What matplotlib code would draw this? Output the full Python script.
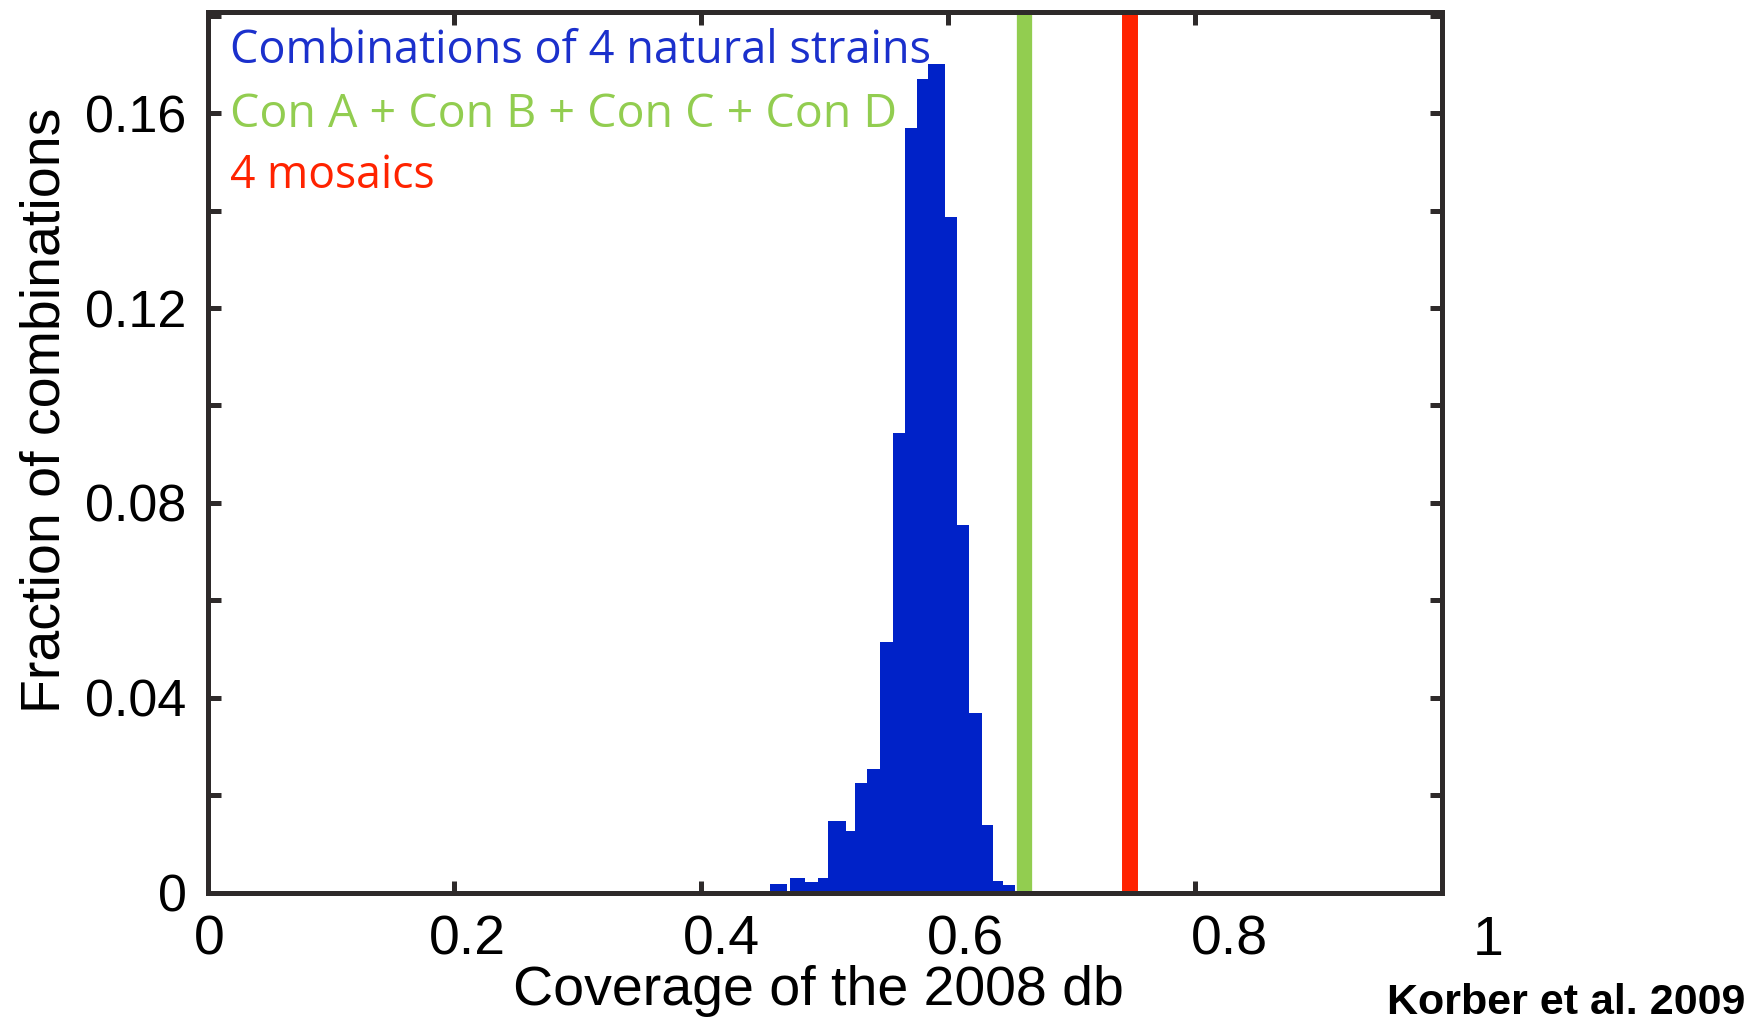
import matplotlib
matplotlib.use("Agg")
import matplotlib.pyplot as plt
from matplotlib.transforms import ScaledTranslation

# ---------------- data ----------------
bin_edges = [0.4558, 0.4694, 0.4720, 0.4842, 0.4950, 0.5031, 0.5174, 0.5247,
             0.5347, 0.5450, 0.5553, 0.5653, 0.5747, 0.5841, 0.5976, 0.6076,
             0.6171, 0.6274, 0.6368, 0.6449, 0.6544]
fractions = [0.0018, 0.0, 0.0029, 0.0022, 0.0029, 0.0147, 0.0127, 0.0225,
             0.0254, 0.0514, 0.0944, 0.1569, 0.1670, 0.1701, 0.1388, 0.0755,
             0.0369, 0.0139, 0.0024, 0.0015]
consensus_coverage = 0.6613
mosaic_coverage = 0.7472

x_ticks = [0, 0.2, 0.4, 0.6, 0.8, 1.0]
x_tick_labels = ["0", "0.2", "0.4", "0.6", "0.8", "1"]
y_ticks = [0, 0.02, 0.04, 0.06, 0.08, 0.10, 0.12, 0.14, 0.16, 0.18]
y_tick_labels = ["0", "", "0.04", "", "0.08", "", "0.12", "", "0.16", ""]
legend_labels = ["Combinations of 4 natural strains",
                 "Con A + Con B + Con C + Con D",
                 "4 mosaics"]

# ---------------- style ----------------
BLUE = "#0022c8"
BLUE_TXT = "#1b30cc"
GREEN = "#92cd50"
RED = "#ff2300"
SPINE = "#2e2a2a"
FONT = "Liberation Sans"
LEG_FONT = "Open Sans"

fig = plt.figure(figsize=(17.6, 10.24), dpi=100)
ax = fig.add_axes([207.5 / 1760, 131.5 / 1024, 1234 / 1760, 880.5 / 1024])

ax.stairs(fractions, bin_edges, fill=True, color=BLUE, baseline=0, zorder=2,
          linewidth=0)
ax.axvline(consensus_coverage, color=GREEN, lw=11, zorder=3)
ax.axvline(mosaic_coverage, color=RED, lw=11.5, zorder=3)

ax.set_xlim(0, 1)
ax.set_ylim(0, 0.1808)

ax.set_xticks(x_ticks)
ax.set_xticklabels(x_tick_labels, fontsize=40, family=FONT)
ax.set_yticks(y_ticks)
ax.set_yticklabels(y_tick_labels, fontsize=37.5, family=FONT)

ax.tick_params(axis="both", direction="in", length=9, width=3.6,
               color=SPINE, top=True, right=True, labelcolor="black")
ax.tick_params(axis="x", pad=16)
ax.tick_params(axis="y", pad=15)
for s in ax.spines.values():
    s.set_linewidth(3.6)
    s.set_color(SPINE)
    s.set_zorder(5)

# the x tick labels in the picture drift slightly to the right
shifts_px = [2, 13, 20, 18, 35, 47]
for lab, dx in zip(ax.get_xticklabels(), shifts_px):
    lab.set_transform(lab.get_transform() +
                      ScaledTranslation(dx / 100, 0, fig.dpi_scale_trans))

ax.set_xlabel("Coverage of the 2008 db", fontsize=40, family=FONT)
ax.xaxis.label.set_va("baseline")
ax.xaxis.set_label_coords(0.4947, -0.1278)
ax.set_ylabel("Fraction of combinations", fontsize=40, family=FONT)
ax.yaxis.label.set_va("center")
ax.yaxis.set_label_coords(-0.131, 0.548)

# legend-like coloured texts
colors = [BLUE_TXT, GREEN, RED]
ys = [0.942, 0.8694, 0.8001]
target_w = [701, 665, 205]
renderer = fig.canvas.get_renderer()
for lab, c, y, tw in zip(legend_labels, colors, ys, target_w):
    t = ax.text(0.0182, y, lab, transform=ax.transAxes, color=c, fontsize=36,
                family=LEG_FONT, va="baseline", ha="left", zorder=6)
    w = t.get_window_extent(renderer).width
    t.set_fontsize(36 * tw / w)

fig.text(1745 / 1760, 1.5 / 1024, "Korber et al. 2009", fontsize=31,
         family=FONT, weight="bold", ha="right", va="bottom")

fig.savefig("out.png", dpi=100, facecolor="white")
